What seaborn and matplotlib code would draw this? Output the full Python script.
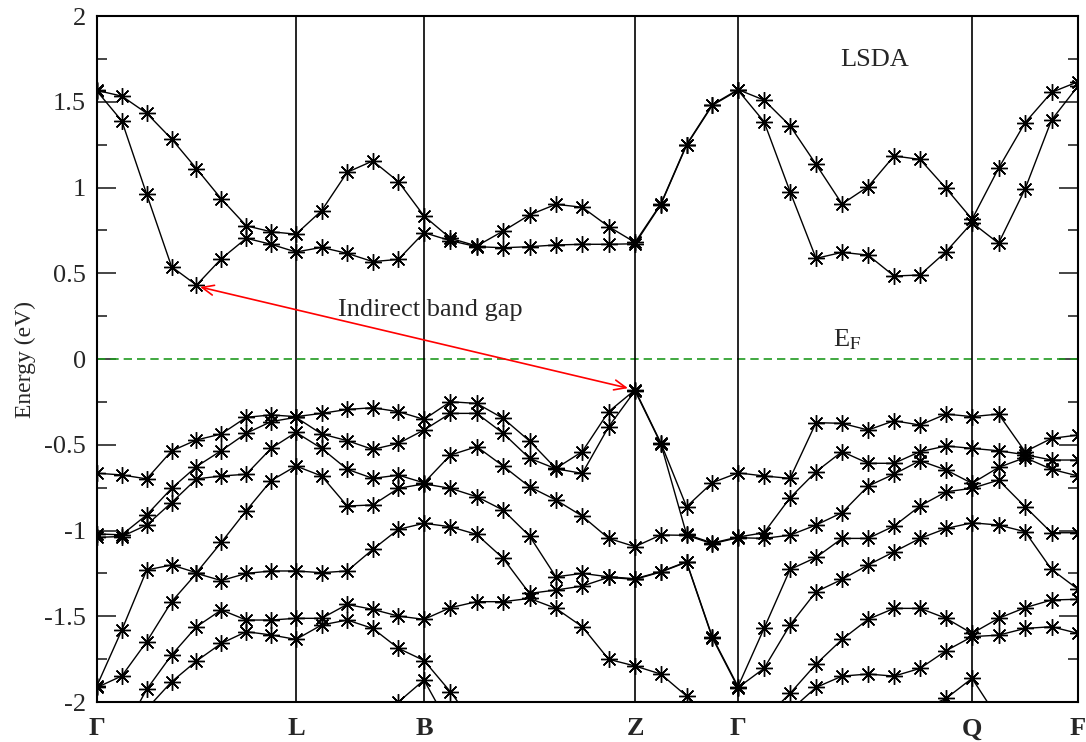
import numpy as np
import pandas as pd
import matplotlib
matplotlib.use("Agg")
import matplotlib.pyplot as plt
from matplotlib.ticker import MultipleLocator
import seaborn as sns

# k-path: high-symmetry points, their path coordinates and k-steps per segment
k_labels = ["Γ", "L", "B", "Z", "Γ", "Q", "F"]
k_nodes = [0.0, 0.199, 0.327, 0.538, 0.641, 0.875, 0.981]
k_steps = [8, 5, 8, 4, 9, 4]

# conduction bands (eV), one value per k-point
c1 = [1.562, 1.388, 0.960, 0.538, 0.431, 0.585, 0.704, 0.669, 0.624,
      0.651, 0.616, 0.568, 0.581, 0.737,
      0.690, 0.655, 0.649, 0.655, 0.665, 0.669, 0.669, 0.672,
      0.900, 1.246, 1.479, 1.567,
      1.384, 0.976, 0.587, 0.622, 0.606, 0.484, 0.490, 0.626, 0.795,
      0.675, 0.991, 1.394, 1.592]
c2 = [1.566, 1.533, 1.433, 1.283, 1.110, 0.933, 0.777, 0.742, 0.728,
      0.865, 1.089, 1.155, 1.034, 0.834,
      0.704, 0.659, 0.746, 0.840, 0.902, 0.885, 0.772, 0.680,
      0.904, 1.250, 1.483, 1.571,
      1.510, 1.360, 1.135, 0.904, 1.005, 1.184, 1.164, 0.995, 0.815,
      1.112, 1.378, 1.555, 1.617]

# valence bands (eV), ordered from the top down
v1 = [-0.666, -0.676, -0.699, -0.536, -0.472, -0.437, -0.340, -0.326, -0.336,
      -0.317, -0.294, -0.284, -0.307, -0.352,
      -0.249, -0.259, -0.346, -0.478, -0.638, -0.540, -0.307, -0.180,
      -0.489, -0.861, -0.721, -0.664,
      -0.682, -0.696, -0.371, -0.375, -0.414, -0.360, -0.385, -0.321, -0.336,
      -0.321, -0.540, -0.463, -0.443]
v2 = [-1.020, -1.025, -0.909, -0.754, -0.627, -0.534, -0.433, -0.365, -0.340,
      -0.437, -0.476, -0.527, -0.492, -0.414,
      -0.317, -0.317, -0.433, -0.579, -0.640, -0.667, -0.395, -0.185,
      -0.493, -1.022, -1.073, -1.038,
      -1.013, -0.809, -0.657, -0.540, -0.608, -0.608, -0.540, -0.507, -0.521,
      -0.535, -0.558, -0.589, -0.589]
v3 = [-1.040, -1.035, -0.968, -0.837, -0.699, -0.682, -0.672, -0.521, -0.428,
      -0.521, -0.643, -0.696, -0.677, -0.722,
      -0.560, -0.511, -0.624, -0.745, -0.822, -0.916, -1.046, -1.094,
      -1.026, -1.028, -1.077, -1.042,
      -1.046, -1.027, -0.968, -0.896, -0.741, -0.671, -0.593, -0.647, -0.725,
      -0.632, -0.575, -0.643, -0.682]
v4 = [-1.905, -1.580, -1.230, -1.201, -1.246, -1.069, -0.884, -0.709, -0.624,
      -0.682, -0.857, -0.851, -0.754, -0.728,
      -0.754, -0.803, -0.881, -1.032, -1.270, -1.250, -1.270, -1.281,
      -1.240, -1.182, -1.620, -1.910,
      -1.571, -1.227, -1.157, -1.046, -1.046, -0.974, -0.857, -0.774, -0.754,
      -0.706, -0.861, -1.013, -1.013]
v5 = [-1.915, -1.848, -1.648, -1.415, -1.250, -1.292, -1.250, -1.236, -1.236,
      -1.246, -1.236, -1.110, -0.993, -0.958,
      -0.978, -1.023, -1.162, -1.367, -1.347, -1.324, -1.273, -1.285,
      -1.242, -1.185, -1.625, -1.916,
      -1.804, -1.551, -1.357, -1.285, -1.201, -1.124, -1.046, -0.988, -0.955,
      -0.968, -1.007, -1.227, -1.343]
v6 = [-2.200, -2.190, -1.926, -1.726, -1.561, -1.463, -1.522, -1.522, -1.512,
      -1.512, -1.431, -1.460, -1.499, -1.518,
      -1.450, -1.415, -1.415, -1.396, -1.454, -1.561, -1.751, -1.790,
      -1.837, -1.965, -2.150, -2.200,
      -2.100, -1.950, -1.779, -1.635, -1.518, -1.454, -1.454, -1.512, -1.600,
      -1.512, -1.450, -1.405, -1.401]
v7 = [-2.300, -2.300, -2.040, -1.882, -1.761, -1.658, -1.590, -1.609, -1.635,
      -1.551, -1.522, -1.571, -1.687, -1.758,
      -1.940, -2.150, -2.300, -2.300, -2.300, -2.300, -2.300, -2.300,
      -2.300, -2.300, -2.300, -2.300,
      -2.300, -2.050, -1.915, -1.849, -1.837, -1.849, -1.804, -1.701, -1.619,
      -1.610, -1.571, -1.561, -1.600]
v8 = [-2.400, -2.400, -2.400, -2.400, -2.400, -2.400, -2.400, -2.400, -2.400,
      -2.400, -2.300, -2.150, -2.000, -1.872,
      -2.150, -2.400, -2.400, -2.400, -2.400, -2.400, -2.400, -2.400,
      -2.400, -2.400, -2.400, -2.400,
      -2.400, -2.400, -2.400, -2.400, -2.300, -2.150, -2.050, -1.979, -1.862,
      -2.100, -2.300, -2.400, -2.400]

bands = {"c1": c1, "c2": c2, "v1": v1, "v2": v2, "v3": v3, "v4": v4,
         "v5": v5, "v6": v6, "v7": v7, "v8": v8}

# k coordinates of every computed point along the path
k = [k_nodes[0]]
for a, b, n in zip(k_nodes[:-1], k_nodes[1:], k_steps):
    k.extend(np.linspace(a, b, n + 1)[1:])
k = np.array(k)

df = pd.concat(
    [pd.DataFrame({"k": k, "E": vals, "band": name}) for name, vals in bands.items()],
    ignore_index=True,
)

sns.set_theme(style="ticks")
plt.rcParams["font.family"] = ["Liberation Serif", "DejaVu Serif"]
plt.rcParams["axes.unicode_minus"] = False
plt.rcParams["mathtext.fontset"] = "stix"

fig = plt.figure(figsize=(10.86, 7.42), dpi=100)
ax = fig.add_axes([0.0893, 0.0539, 0.9034, 0.9245])

# Fermi level and high-symmetry lines
ax.axhline(0.0, color="#1f9a1f", lw=1.2, ls=(0, (5, 3)), zorder=1)
for xv in k_nodes[1:-1]:
    ax.axvline(xv, color="black", lw=1.2, zorder=1)

sns.lineplot(data=df, x="k", y="E", units="band", estimator=None, sort=False,
             color="black", lw=1.0, marker=(8, 2, 0), markersize=12,
             markeredgewidth=1.0, markeredgecolor="black", ax=ax,
             legend=False, zorder=3)

ax.set_xlim(k_nodes[0], k_nodes[-1])
ax.set_ylim(-2, 2)
ax.set_xticks(k_nodes)
ax.set_xticklabels(k_labels, fontsize=19, fontweight="bold")
ax.set_xlabel("")
ax.yaxis.set_major_locator(MultipleLocator(0.5))
ax.yaxis.set_minor_locator(MultipleLocator(0.25))
ax.yaxis.set_major_formatter(plt.FuncFormatter(lambda v, p: f"{v:g}"))
ax.tick_params(axis="y", which="both", direction="in", left=True, right=True,
               labelsize=19, width=1.2, pad=8)
ax.tick_params(axis="y", which="major", length=14)
ax.tick_params(axis="y", which="minor", length=7)
ax.tick_params(axis="x", length=0, pad=11)
ax.set_ylabel("Energy (eV)", fontsize=17, labelpad=6)
for s in ax.spines.values():
    s.set_linewidth(1.5)
    s.set_color("black")

# indirect gap between the conduction-band minimum and valence-band maximum
ax.annotate("", xy=(0.531, -0.17), xytext=(0.103, 0.42),
            arrowprops=dict(arrowstyle="<->,head_length=0.7,head_width=0.3",
                            color="red", lw=1.2, shrinkA=0, shrinkB=0), zorder=4)
ax.text(0.333, 0.286, "Indirect band gap", fontsize=19, ha="center", va="center")
ax.text(0.778, 1.745, "LSDA", fontsize=19, ha="center", va="center")
ax.text(0.750, 0.11, r"E$_{\mathrm{F}}$", fontsize=19, ha="center", va="center")

fig.savefig("out.png", dpi=100)
